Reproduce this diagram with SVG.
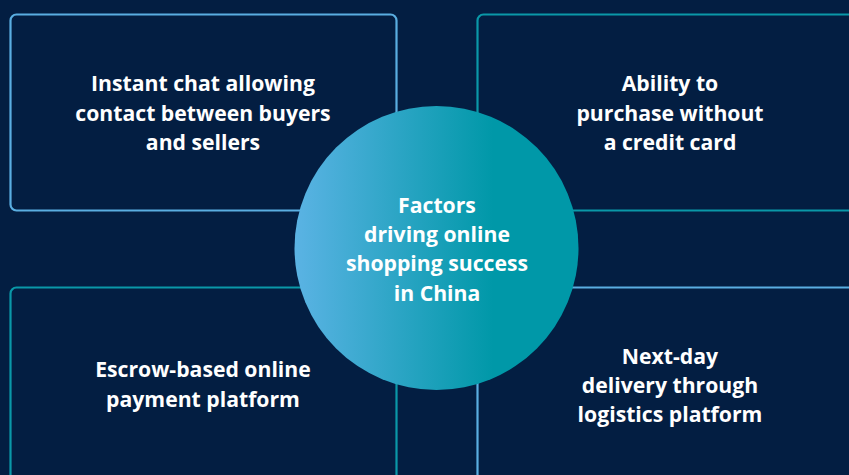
<svg xmlns="http://www.w3.org/2000/svg" width="849" height="475" viewBox="0 0 849 475">
  <defs>
    <linearGradient id="circleGrad" x1="0" y1="0" x2="1" y2="0">
      <stop offset="0" stop-color="#5bb3e4"/>
      <stop offset="0.7" stop-color="#0098a8"/>
      <stop offset="1" stop-color="#0098a8"/>
    </linearGradient>
    <style>
      .box { fill: #031e42; stroke-width: 2.2; }
      .blue { stroke: #5aaee1; }
      .teal { stroke: #0a98a8; }
      .label { font-family: "Open Sans", "Noto Sans", "Liberation Sans", sans-serif; font-weight: 700; font-size: 21.2px; fill: #ffffff; text-anchor: middle; }
    </style>
  </defs>
  <rect width="849" height="475" fill="#031e42"/>
  <g id="node-chat">
    <rect class="box blue" x="10.5" y="14.5" width="386" height="196" rx="6"/>
    <text class="label"><tspan x="203" y="91">Instant chat allowing</tspan><tspan x="203" y="121">contact between buyers</tspan><tspan x="203" y="150">and sellers</tspan></text>
  </g>
  <g id="node-credit">
    <rect class="box teal" x="477.5" y="14.5" width="386" height="196" rx="6"/>
    <text class="label"><tspan x="670" y="91">Ability to</tspan><tspan x="670" y="121">purchase without</tspan><tspan x="670" y="150">a credit card</tspan></text>
  </g>
  <g id="node-escrow">
    <rect class="box teal" x="10.5" y="287.5" width="386" height="210" rx="6"/>
    <text class="label"><tspan x="203" y="377">Escrow-based online</tspan><tspan x="203" y="407">payment platform</tspan></text>
  </g>
  <g id="node-delivery">
    <rect class="box blue" x="477.5" y="287.5" width="386" height="210" rx="6"/>
    <text class="label"><tspan x="670" y="364">Next-day</tspan><tspan x="670" y="393">delivery through</tspan><tspan x="670" y="422">logistics platform</tspan></text>
  </g>
  <g id="connectors"></g>
  <g id="node-center">
    <circle cx="436.5" cy="248" r="142" fill="url(#circleGrad)"/>
    <text class="label"><tspan x="437" y="213">Factors</tspan><tspan x="437" y="242">driving online</tspan><tspan x="437" y="271">shopping success</tspan><tspan x="437" y="301">in China</tspan></text>
  </g>
</svg>
